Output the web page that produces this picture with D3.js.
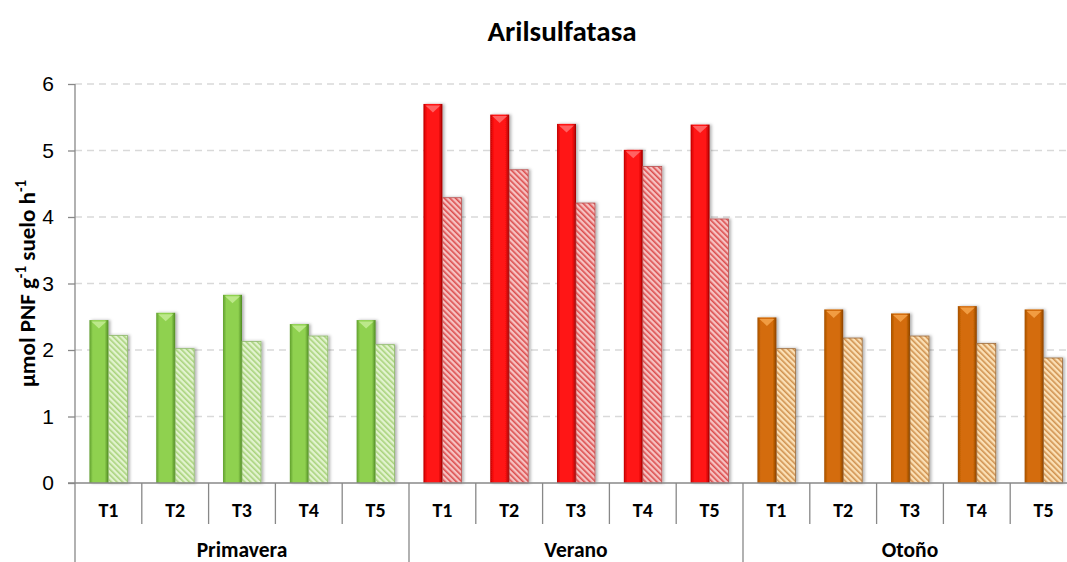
<!DOCTYPE html>
<html>
<head>
<meta charset="utf-8">
<script src="https://cdn.jsdelivr.net/npm/d3@7"></script>
<style>
  html, body { margin: 0; padding: 0; background: #fff; }
  svg { display: block; font-family: Carlito, "Open Sans", "Liberation Sans", sans-serif; }
</style>
</head>
<body>
<svg id="chart" width="1067" height="562"></svg>
<script>
// Seasons and treatments
const seasons = ["Primavera", "Verano", "Otoño"];
const treatments = ["T1", "T2", "T3", "T4", "T5"];
// Solid bars (first series) and hatched bars (second series), per season
const primaveraA = [2.45, 2.56, 2.83, 2.39, 2.45];
const primaveraB = [2.22, 2.02, 2.13, 2.21, 2.08];
const veranoA = [5.70, 5.54, 5.40, 5.01, 5.39];
const veranoB = [4.29, 4.71, 4.21, 4.76, 3.97];
const otonoA = [2.49, 2.61, 2.55, 2.66, 2.61];
const otonoB = [2.02, 2.18, 2.21, 2.10, 1.88];
const yTicks = [0, 1, 2, 3, 4, 5, 6];

const seriesA = [primaveraA, veranoA, otonoA];
const seriesB = [primaveraB, veranoB, otonoB];

const palette = [
  { solid: ["#5f9e2c", "#8fd150", "#4f8a22"], tri: "#c4ec94", light: "#e2f3cf", hatch: "#a9d37c", edge: "#8db86a" },
  { solid: ["#c00000", "#ff1212", "#a00000"], tri: "#ff7070", light: "#f6c2c2", hatch: "#dc4e4e", edge: "#b85050" },
  { solid: ["#a44f00", "#d46c08", "#8a4200"], tri: "#f6a44c", light: "#fbe0b6", hatch: "#d0924f", edge: "#9a6a3a" }
];

const rows = [];
seasons.forEach((s, si) => treatments.forEach((t, ti) => {
  rows.push({ key: s + "|" + t, season: si, t, a: seriesA[si][ti], b: seriesB[si][ti] });
}));

const svg = d3.select("#chart");
const W = 1067, H = 562;
const plotL = 75, plotR = 1077, plotT = 84, plotB = 483;

const x = d3.scaleBand().domain(rows.map(r => r.key)).range([plotL, plotR]).padding(0);
const sub = d3.scaleBand().domain(["a", "b"]).range([0, x.bandwidth()]).paddingInner(0).paddingOuter(0.76);
const y = d3.scaleLinear().domain([0, 6]).range([plotB, plotT]);

const defs = svg.append("defs");
palette.forEach((p, i) => {
  const g = defs.append("linearGradient").attr("id", "solid" + i).attr("x1", 0).attr("x2", 1).attr("y1", 0).attr("y2", 0);
  g.append("stop").attr("offset", "0%").attr("stop-color", p.solid[0]);
  g.append("stop").attr("offset", "18%").attr("stop-color", p.solid[1]);
  g.append("stop").attr("offset", "80%").attr("stop-color", p.solid[1]);
  g.append("stop").attr("offset", "100%").attr("stop-color", p.solid[2]);
  const pat = defs.append("pattern").attr("id", "hatch" + i).attr("patternUnits", "userSpaceOnUse")
    .attr("width", 4).attr("height", 4).attr("patternTransform", "rotate(-45)");
  pat.append("rect").attr("width", 4).attr("height", 4).attr("fill", p.light);
  pat.append("rect").attr("width", 1.6).attr("height", 4).attr("fill", p.hatch);
});
const sh = defs.append("filter").attr("id", "shadow").attr("x", "-30%").attr("y", "-5%").attr("width", "160%").attr("height", "110%");
sh.append("feDropShadow").attr("dx", 2).attr("dy", 0).attr("stdDeviation", 1.6).attr("flood-color", "#000").attr("flood-opacity", 0.3);

// Gridlines
svg.append("g").selectAll("line").data(yTicks.filter(d => d > 0)).join("line")
  .attr("x1", plotL).attr("x2", W).attr("y1", d => y(d)).attr("y2", d => y(d))
  .attr("stroke", "#d9d9d9").attr("stroke-width", 1.3).attr("stroke-dasharray", "7,5");

// Title
svg.append("text").attr("x", 562).attr("y", 41).attr("text-anchor", "middle")
  .attr("font-size", 29).attr("font-weight", "bold").attr("fill", "#000").text("Arilsulfatasa");

// Y axis
const yAxis = svg.append("g").attr("transform", `translate(${plotL},0)`)
  .call(d3.axisLeft(y).tickValues(yTicks).tickSize(7).tickPadding(14).tickFormat(d3.format("d")));
yAxis.select(".domain").remove();
yAxis.selectAll(".tick line").attr("stroke", "#888").attr("stroke-width", 1.3);
yAxis.selectAll(".tick text").attr("font-size", 21).attr("fill", "#000").attr("font-family", "inherit");
svg.append("line").attr("x1", plotL).attr("x2", plotL).attr("y1", plotT).attr("y2", H)
  .attr("stroke", "#888").attr("stroke-width", 1.3);

// Y axis title
const yt = svg.append("text").attr("transform", `translate(35,${(plotT + plotB) / 2}) rotate(-90)`)
  .attr("text-anchor", "middle").attr("font-size", 23).attr("font-weight", "bold").attr("fill", "#000");
yt.append("tspan").text("µmol PNF g");
yt.append("tspan").attr("dy", -9).attr("font-size", 15).text("-1");
yt.append("tspan").attr("dy", 9).text(" suelo h");
yt.append("tspan").attr("dy", -9).attr("font-size", 15).text("-1");

// Bars
const bars = svg.append("g");
const grp = bars.selectAll("g").data(rows).join("g").attr("transform", d => `translate(${x(d.key)},0)`);

grp.append("rect").attr("x", sub("a")).attr("width", sub.bandwidth())
  .attr("y", d => y(d.a)).attr("height", d => y(0) - y(d.a))
  .attr("fill", d => `url(#solid${d.season})`).attr("filter", "url(#shadow)");
grp.append("path").attr("d", d => {
  const x0 = sub("a") + 2, x1 = sub("a") + sub.bandwidth() - 2, yt0 = y(d.a) + 1.5;
  return `M${x0},${yt0}L${x1},${yt0}L${(x0 + x1) / 2},${yt0 + 7}Z`;
}).attr("fill", d => palette[d.season].tri).attr("opacity", 0.85);

grp.append("rect").attr("x", sub("b")).attr("width", sub.bandwidth())
  .attr("y", d => y(d.b)).attr("height", d => y(0) - y(d.b))
  .attr("fill", d => `url(#hatch${d.season})`).attr("stroke", d => palette[d.season].edge).attr("stroke-width", 0.8)
  .attr("filter", "url(#shadow)");

// X axis base line
svg.append("line").attr("x1", plotL - 7).attr("x2", W).attr("y1", y(0)).attr("y2", y(0))
  .attr("stroke", "#888").attr("stroke-width", 1.3);

// Category separators and labels
const catG = svg.append("g");
catG.selectAll("line").data(rows.slice(1)).join("line")
  .attr("x1", d => x(d.key)).attr("x2", d => x(d.key))
  .attr("y1", y(0)).attr("y2", d => treatments.indexOf(d.t) === 0 ? H : 524)
  .attr("stroke", "#888").attr("stroke-width", 1.3);
catG.selectAll("text").data(rows).join("text")
  .attr("x", d => x(d.key) + x.bandwidth() / 2).attr("y", 517).attr("text-anchor", "middle")
  .attr("font-size", 20).attr("font-weight", "bold").attr("fill", "#000").text(d => d.t);

// Season labels
svg.append("g").selectAll("text").data(seasons).join("text")
  .attr("x", (s, i) => {
    const k0 = x(s + "|" + treatments[0]);
    const k1 = x(s + "|" + treatments[treatments.length - 1]) + x.bandwidth();
    return (k0 + k1) / 2;
  })
  .attr("y", 557).attr("text-anchor", "middle")
  .attr("font-size", 21.5).attr("font-weight", "bold").attr("fill", "#000").text(d => d);
</script>
</body>
</html>
